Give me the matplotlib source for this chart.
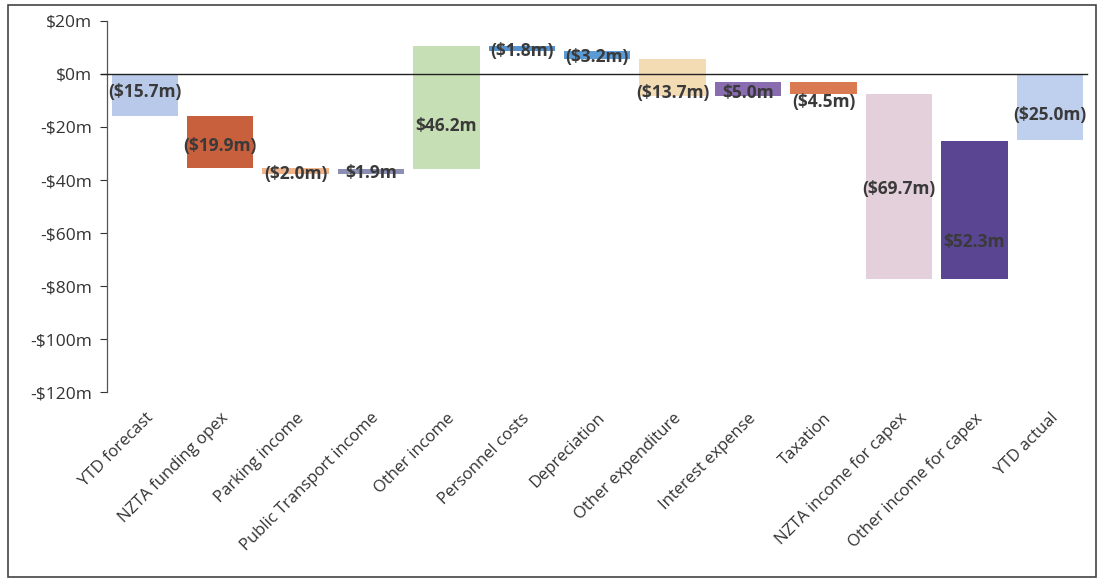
import numpy as np
import matplotlib.pyplot as plt
from matplotlib.patches import Rectangle

# waterfall categories and movements ($m)
categories = ["YTD forecast", "NZTA funding opex", "Parking income",
              "Public Transport income", "Other income", "Personnel costs",
              "Depreciation", "Other expenditure", "Interest expense",
              "Taxation", "NZTA income for capex", "Other income for capex",
              "YTD actual"]
changes = [-15.7, -19.9, -2.0, 1.9, 46.2, -1.8, -3.2, -13.7, 5.0, -4.5,
           -69.7, 52.3, -25.0]
is_total = [True, False, False, False, False, False, False, False, False,
            False, False, False, True]
bar_colors = ["#b9c9ea", "#c8603d", "#f0b48a", "#8c8fb4", "#c6dfb5",
              "#5592cc", "#5b9bd5", "#f3dcb4", "#8a6cb0", "#d97a52",
              "#e3d0da", "#5a4593", "#bfd0ee"]
# nudges so the value text sits where it reads best
label_shift = [1.2, -1.5, -1.0, -0.8, -7.0, -0.8, -0.7, -6.0, -1.5, -5.0,
               -1.0, -12.0, -3.0]

yticks = [20, 0, -20, -40, -60, -80, -100, -120]

plt.rcParams['font.family'] = ['Open Sans', 'DejaVu Sans']


def fmt(v):
    if v < 0:
        return "(${:.1f}m)".format(-v)
    return "${:.1f}m".format(v)


def ytick_fmt(v):
    if v < 0:
        return "-${:d}m".format(int(-v))
    return "${:d}m".format(int(v))


# running totals for bar bases
starts = []
ends = []
level = 0.0
for v, tot in zip(changes, is_total):
    if tot:
        starts.append(0.0)
        ends.append(v)
        level = v
    else:
        starts.append(level)
        level = level + v
        ends.append(level)
starts = np.array(starts)
ends = np.array(ends)

fig = plt.figure(figsize=(11.04, 5.81), dpi=100)
ax = fig.add_axes([0.097, 0.325, 0.888, 0.639])

x = np.arange(len(categories))
ax.bar(x, ends - starts, bottom=starts, width=0.88, color=bar_colors,
       edgecolor='none', zorder=2)

for i in range(len(categories)):
    mid = (starts[i] + ends[i]) / 2 + label_shift[i]
    ax.text(x[i], mid, fmt(changes[i]), ha='center', va='center',
            fontsize=12.5, fontweight='bold', color='#3a3a3a', zorder=4)

ax.axhline(0, xmin=-0.006, color='#222222', linewidth=1.0, zorder=3,
           clip_on=False)

ax.set_ylim(-120, 20)
ax.set_xlim(-0.5, len(categories) - 0.5)
ax.set_yticks(yticks)
ax.set_yticklabels([ytick_fmt(t) for t in yticks])
ax.tick_params(axis='y', labelsize=12.5, colors='#333333', length=5,
               width=0.8, pad=6)
ax.tick_params(axis='x', length=0, pad=13)
ax.set_xticks(x)
ax.set_xticklabels(categories, rotation=45, ha='right',
                   rotation_mode='anchor', fontsize=12, color='#333333')

for s in ['top', 'right', 'bottom']:
    ax.spines[s].set_visible(False)
ax.spines['left'].set_color('#555555')
ax.spines['left'].set_linewidth(0.9)

# chart area border
fig.patches.append(Rectangle((0.007, 0.007), 0.986, 0.985,
                             transform=fig.transFigure, fill=False,
                             edgecolor='#444444', linewidth=1.2))

fig.savefig("out.png", dpi=100)
